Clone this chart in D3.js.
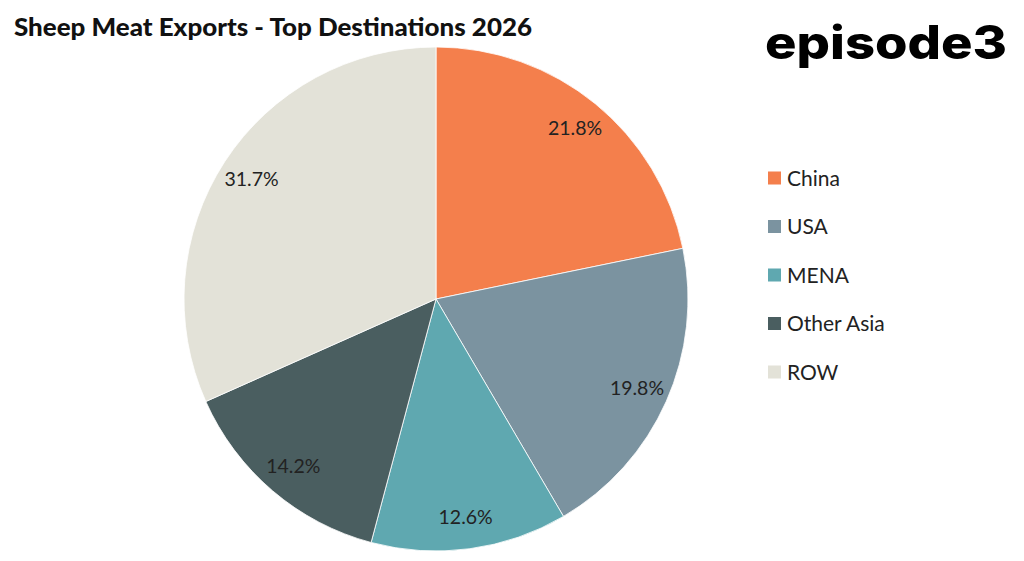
<!DOCTYPE html>
<html>
<head>
<meta charset="utf-8">
<script src="https://cdn.jsdelivr.net/npm/d3@7"></script>
<style>
  body { margin: 0; background: #fff; }
  svg { display: block; }
</style>
</head>
<body>
<svg id="chart" width="1024" height="561"></svg>
<script>
const categories = ["China", "USA", "MENA", "Other Asia", "ROW"];
const shares = [21.8, 19.8, 12.6, 14.2, 31.7];
const colours = ["#F47F4C", "#7B93A0", "#5FA8B0", "#4A5E60", "#E3E2D8"];

const cx = 436, cy = 299, radius = 252;

const svg = d3.select("#chart");

// title
svg.append("text")
    .attr("x", 14)
    .attr("y", 36)
    .style("font-family", "Lato, 'Open Sans', sans-serif")
    .style("font-weight", 900)
    .style("font-size", "24px")
    .attr("textLength", 518)
    .attr("lengthAdjust", "spacingAndGlyphs")
    .attr("fill", "#111")
    .text("Sheep Meat Exports - Top Destinations 2026");

// logo
svg.append("text")
    .attr("x", 765)
    .attr("y", 59)
    .style("font-family", "Inter, sans-serif")
    .style("font-weight", 800)
    .style("font-size", "46px")
    .attr("textLength", 242)
    .attr("lengthAdjust", "spacingAndGlyphs")
    .attr("fill", "#000")
    .text("episode3");

const colour = d3.scaleOrdinal().domain(categories).range(colours);

const pie = d3.pie().sort(null).value(d => d.value);
const data = categories.map((c, i) => ({ name: c, value: shares[i] }));
const arcs = pie(data);

const arc = d3.arc().innerRadius(0).outerRadius(radius);
const labelArc = d3.arc().innerRadius(220).outerRadius(220);

const g = svg.append("g").attr("transform", `translate(${cx},${cy})`);

g.selectAll("path")
    .data(arcs)
    .join("path")
    .attr("d", arc)
    .attr("fill", d => colour(d.data.name))
    .attr("stroke", "#fff")
    .attr("stroke-width", 0.8);

g.selectAll("text.lbl")
    .data(arcs)
    .join("text")
    .attr("class", "lbl")
    .attr("transform", d => `translate(${labelArc.centroid(d)})`)
    .attr("text-anchor", "middle")
    .attr("dy", "0.35em")
    .style("font-family", "Lato, 'Open Sans', sans-serif")
    .style("font-size", "19.5px")
    .attr("fill", "#222")
    .text(d => d.data.value.toFixed(1) + "%");

// legend
const legendY = d3.scalePoint().domain(categories).range([178, 372]);

const legend = svg.append("g");
const item = legend.selectAll("g")
    .data(categories)
    .join("g")
    .attr("transform", d => `translate(768,${legendY(d)})`);

item.append("rect")
    .attr("x", 0)
    .attr("y", -6.5)
    .attr("width", 13)
    .attr("height", 13)
    .attr("fill", d => colour(d));

item.append("text")
    .attr("x", 19)
    .attr("dy", "0.36em")
    .style("font-family", "Lato, 'Open Sans', sans-serif")
    .style("font-size", "21px")
    .attr("fill", "#222")
    .text(d => d);
</script>
</body>
</html>
